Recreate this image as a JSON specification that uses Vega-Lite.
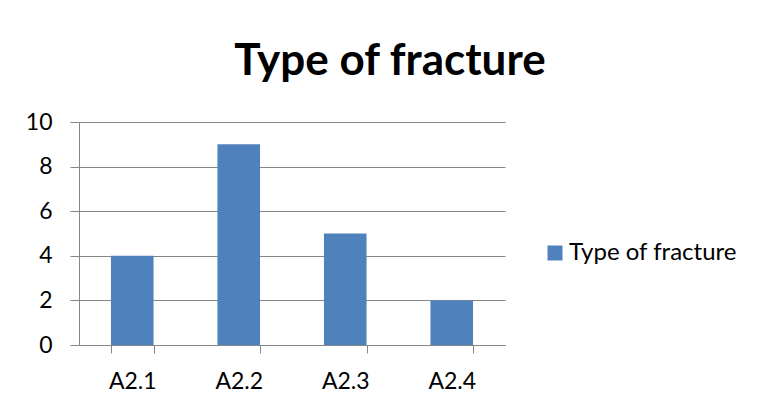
{
  "$schema": "https://vega.github.io/schema/vega-lite/v6.json",
  "autosize": {"type": "none"},
  "padding": {"left": 79, "top": 122, "right": 252, "bottom": 63},
  "width": 426,
  "height": 223,
  "background": "white",
  "title": {
    "text": "Type of fracture",
    "font": "Lato",
    "fontSize": 44,
    "fontWeight": "bold",
    "color": "#000000",
    "anchor": "middle",
    "baseline": "alphabetic",
    "dx": 98,
    "offset": -8
  },
  "data": {
    "values": [
      {"category": "A2.1", "value": 4, "series": "Type of fracture"},
      {"category": "A2.2", "value": 9, "series": "Type of fracture"},
      {"category": "A2.3", "value": 5, "series": "Type of fracture"},
      {"category": "A2.4", "value": 2, "series": "Type of fracture"}
    ]
  },
  "mark": {"type": "bar"},
  "encoding": {
    "x": {
      "field": "category",
      "type": "nominal",
      "sort": null,
      "scale": {"paddingInner": 0.6, "paddingOuter": 0.3},
      "axis": {
        "title": null,
        "labelAngle": 0,
        "labelFont": "Lato",
        "labelFontSize": 23,
        "labelColor": "#000000",
        "labelPadding": 17,
        "tickBand": "extent",
        "tickSize": 8,
        "tickColor": "#868686",
        "domainColor": "#868686",
        "grid": false
      }
    },
    "y": {
      "field": "value",
      "type": "quantitative",
      "scale": {"domain": [0, 10], "nice": false},
      "axis": {
        "title": null,
        "values": [0, 2, 4, 6, 8, 10],
        "labelFont": "Lato",
        "labelFontSize": 23,
        "labelColor": "#000000",
        "labelPadding": 18,
        "tickSize": 9,
        "tickColor": "#868686",
        "domainColor": "#868686",
        "grid": true,
        "gridColor": "#868686",
        "gridWidth": 1
      }
    },
    "color": {
      "field": "series",
      "type": "nominal",
      "scale": {"range": ["#4F81BD"]},
      "legend": {
        "title": null,
        "orient": "none",
        "legendX": 464,
        "legendY": 119,
        "symbolType": "square",
        "symbolSize": 225,
        "symbolStrokeWidth": 0,
        "labelFont": "Lato",
        "labelFontSize": 24,
        "labelColor": "#000000",
        "labelOffset": 2,
        "labelLimit": 300
      }
    }
  },
  "config": {
    "view": {"stroke": null}
  }
}
